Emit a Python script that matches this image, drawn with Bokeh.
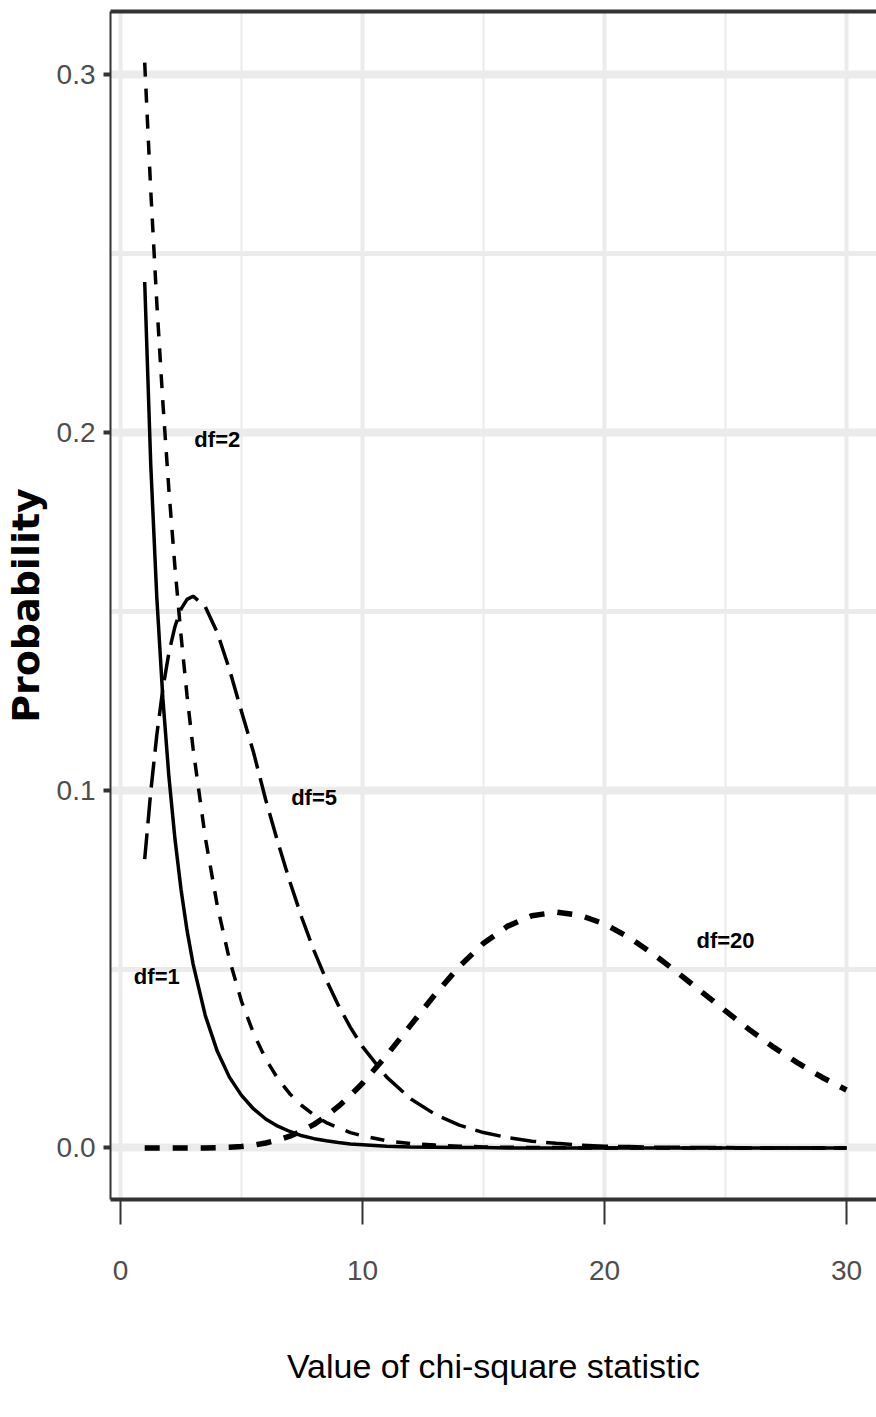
from bokeh.plotting import figure
from bokeh.models import FixedTicker, LinearAxis, Range1d, ColumnDataSource, NumeralTickFormatter
from bokeh.core.properties import value
from bokeh.embed import file_html
from bokeh.resources import INLINE

# x positions of the curves
x_vals = [1, 1.25, 1.5, 1.75, 2, 2.25, 2.5, 2.75, 3, 3.5, 4, 4.5, 5, 5.5, 6,
          6.5, 7, 7.5, 8, 8.5, 9, 9.5, 10, 11, 12, 13, 14, 15, 16, 17, 18, 19,
          20, 21, 22, 23, 24, 25, 26, 27, 28, 29, 30]

# probability values (chi-square curves)
df1_vals = [0.2420, 0.1910, 0.1539, 0.1257, 0.1038, 0.0864, 0.0723, 0.0608,
            0.0514, 0.0371, 0.0270, 0.0198, 0.0147, 0.0109, 0.0081, 0.0061,
            0.0046, 0.0034, 0.0026, 0.0020, 0.0015, 0.0011, 0.0009, 0.0005,
            0.0003, 0.0002, 0.0001, 0.0001, 0.0, 0.0, 0.0, 0.0, 0.0, 0.0,
            0.0, 0.0, 0.0, 0.0, 0.0, 0.0, 0.0, 0.0, 0.0]
df2_vals = [0.3033, 0.2676, 0.2362, 0.2084, 0.1839, 0.1623, 0.1433, 0.1264,
            0.1116, 0.0869, 0.0677, 0.0527, 0.0410, 0.0320, 0.0249, 0.0194,
            0.0151, 0.0118, 0.0092, 0.0071, 0.0056, 0.0043, 0.0034, 0.0020,
            0.0012, 0.0008, 0.0005, 0.0003, 0.0002, 0.0001, 0.0001, 0.0,
            0.0, 0.0, 0.0, 0.0, 0.0, 0.0, 0.0, 0.0, 0.0, 0.0, 0.0]
df5_vals = [0.0807, 0.0995, 0.1154, 0.1283, 0.1384, 0.1457, 0.1506, 0.1533,
            0.1542, 0.1513, 0.1440, 0.1338, 0.1220, 0.1105, 0.0973, 0.0855,
            0.0744, 0.0642, 0.0551, 0.0470, 0.0399, 0.0337, 0.0283, 0.0198,
            0.0137, 0.0094, 0.0064, 0.0043, 0.0029, 0.0019, 0.0013, 0.0008,
            0.0005, 0.0004, 0.0002, 0.0002, 0.0001, 0.0001, 0.0, 0.0, 0.0,
            0.0, 0.0]
df20_vals = [0.0, 0.0, 0.0, 0.0, 0.0, 0.0, 0.0, 0.0, 0.0, 0.0, 0.0001, 0.0002,
             0.0004, 0.0008, 0.0014, 0.0022, 0.0033, 0.0048, 0.0066, 0.0089,
             0.0116, 0.0147, 0.0181, 0.0259, 0.0344, 0.0429, 0.0507, 0.0572,
             0.0620, 0.0649, 0.0659, 0.0650, 0.0626, 0.0589, 0.0543, 0.0491,
             0.0437, 0.0383, 0.0330, 0.0281, 0.0237, 0.0197, 0.0162]

# curve annotations
label_text = ["df=1", "df=2", "df=5", "df=20"]
label_x = [1.5, 4, 8, 25]
label_y = [0.05, 0.20, 0.10, 0.06]

x_ticks = [0, 10, 20, 30]
x_minor = [5, 15, 25]
y_ticks = [0.0, 0.1, 0.2, 0.3]
y_minor = [0.05, 0.15, 0.25]

SANS = "Liberation Sans"
BORDER = "#333333"
GRID = "#EBEBEB"

p = figure(width=876, height=1401,
           x_range=Range1d(-0.413, 31.24), y_range=Range1d(-0.0144, 0.3176),
           output_backend="svg", toolbar_location=None,
           min_border_left=110, min_border_right=0, min_border_top=11,
           min_border_bottom=202,
           x_axis_label="Value of chi-square statistic",
           y_axis_label="Probability")
p.outline_line_color = None
p.background_fill_color = "white"
p.border_fill_color = "white"

# grids
p.xgrid.ticker = FixedTicker(ticks=x_ticks, minor_ticks=x_minor)
p.ygrid.ticker = FixedTicker(ticks=y_ticks, minor_ticks=y_minor)
p.xgrid.grid_line_color = GRID
p.xgrid.grid_line_width = 4
p.xgrid.minor_grid_line_color = GRID
p.xgrid.minor_grid_line_width = 2
p.ygrid.grid_line_color = GRID
p.ygrid.grid_line_width = 8
p.ygrid.minor_grid_line_color = GRID
p.ygrid.minor_grid_line_width = 5

# x axis
xa = p.xaxis[0]
xa.ticker = FixedTicker(ticks=x_ticks, minor_ticks=x_minor)
xa.axis_line_color = BORDER
xa.axis_line_width = 4
xa.major_tick_line_color = BORDER
xa.major_tick_line_width = 2
xa.major_tick_out = 25
xa.major_tick_in = 0
xa.minor_tick_out = 0
xa.minor_tick_in = 0
xa.major_label_standoff = 36
xa.major_label_text_font = SANS
xa.major_label_text_font_size = "28px"
xa.major_label_text_color = "#4D4D4D"
xa.axis_label_standoff = 64
xa.axis_label_text_font = SANS
xa.axis_label_text_font_size = "34px"
xa.axis_label_text_font_style = "normal"
xa.axis_label_text_color = "black"

# y axis
ya = p.yaxis[0]
ya.ticker = FixedTicker(ticks=y_ticks, minor_ticks=y_minor)
ya.formatter = NumeralTickFormatter(format="0.0")
ya.axis_line_color = BORDER
ya.axis_line_width = 2
ya.major_tick_line_color = BORDER
ya.major_tick_line_width = 4
ya.major_tick_out = 7
ya.major_tick_in = 0
ya.minor_tick_out = 0
ya.minor_tick_in = 0
ya.major_label_standoff = 8
ya.major_label_text_font = SANS
ya.major_label_text_font_size = "28px"
ya.major_label_text_color = "#4D4D4D"
ya.axis_label_standoff = 6
ya.axis_label_text_font = "DejaVu Sans"
ya.axis_label_text_font_size = "38px"
ya.axis_label_text_font_style = "bold"
ya.axis_label_text_color = "black"

# top panel border
top = LinearAxis(ticker=FixedTicker(ticks=[]), axis_line_color=BORDER,
                 axis_line_width=4, major_tick_out=0, major_tick_in=0,
                 minor_tick_out=0, minor_tick_in=0,
                 major_label_text_font_size="0px")
p.add_layout(top, "above")

src = ColumnDataSource(dict(x=x_vals, d1=df1_vals, d2=df2_vals,
                            d5=df5_vals, d20=df20_vals))

p.line("x", "d1", source=src, line_color="black", line_width=3.5)
p.line("x", "d2", source=src, line_color="black", line_width=3.5,
       line_dash="14 12")
p.line("x", "d5", source=src, line_color="black", line_width=3.5,
       line_dash="26 10")
p.line("x", "d20", source=src, line_color="black", line_width=5.5,
       line_dash="15 13")

lab = ColumnDataSource(dict(x=label_x, y=label_y, t=label_text))
p.text("x", "y", text="t", source=lab, text_font=value(SANS),
       text_font_style="bold", text_font_size="22px", text_align="center",
       text_baseline="middle", y_offset=7, text_color="black")

open("out.html", "w").write(file_html(p, INLINE))
